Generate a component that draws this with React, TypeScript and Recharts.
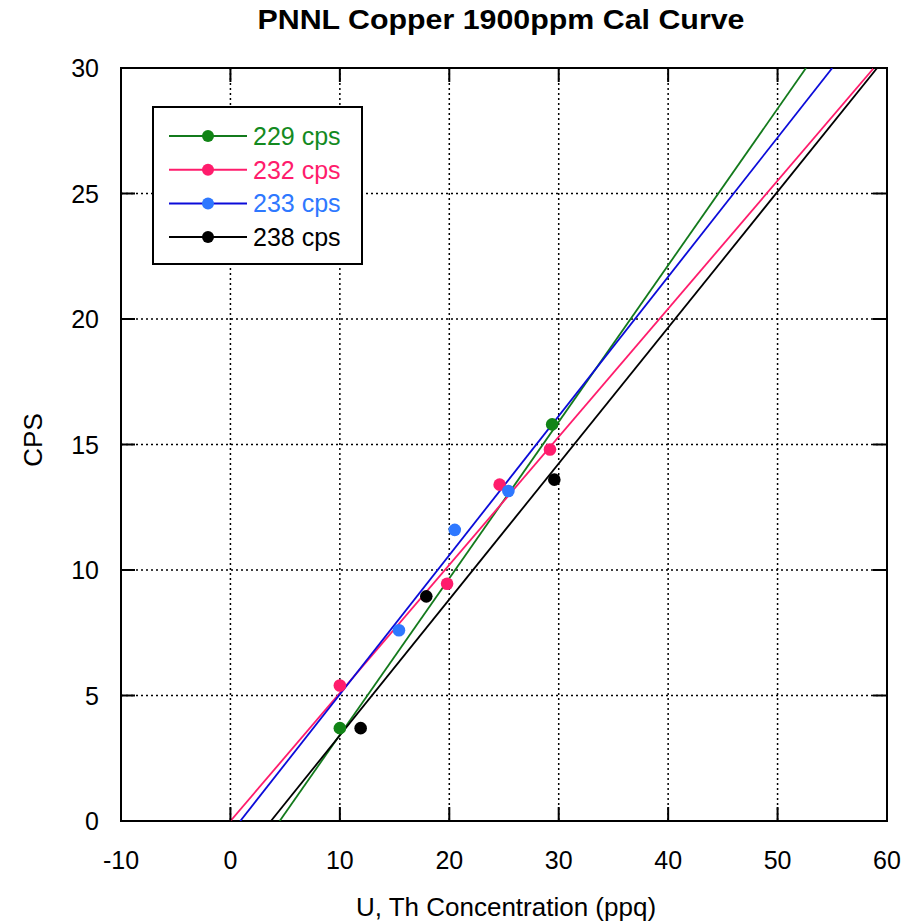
import React from "react";
import {
  ScatterChart,
  Scatter,
  XAxis,
  YAxis,
  CartesianGrid,
  ReferenceArea,
} from "recharts";

// chart size and plot frame
const WIDTH = 915;
const HEIGHT = 922;
const PLOT_LEFT = 121;
const PLOT_RIGHT = 887;
const PLOT_TOP = 68;
const PLOT_BOTTOM = 821;
const FONT = "'Liberation Sans', Arial, Helvetica, sans-serif";

const xTicks = [-10, 0, 10, 20, 30, 40, 50, 60];
const yTicks = [0, 5, 10, 15, 20, 25, 30];

// measured points (concentration ppq, cps)
const conc229 = [10, 29.4];
const cps229 = [3.7, 15.8];
const conc232 = [10, 19.8, 24.6, 29.2];
const cps232 = [5.4, 9.45, 13.4, 14.8];
const conc233 = [15.4, 20.5, 25.4];
const cps233 = [7.6, 11.6, 13.15];
const conc238 = [11.9, 17.9, 29.6];
const cps238 = [3.7, 8.95, 13.6];

// fit line ends, read where each line meets the bottom and top of the plot
const fitCps = [0, 30];
const fit229 = [4.5, 52.6];
const fit232 = [0, 58.8];
const fit233 = [0.9, 55.0];
const fit238 = [3.7, 59.1];

const zip = (xs: number[], ys: number[]) => xs.map((x, i) => ({ x, y: ys[i] }));

const series = [
  { name: "229 cps", line: "#137a1c", dot: "#118416", text: "#138a1f", pts: zip(conc229, cps229), fit: zip(fit229, fitCps) },
  { name: "232 cps", line: "#ff1c6c", dot: "#ff1c6c", text: "#ff1c6c", pts: zip(conc232, cps232), fit: zip(fit232, fitCps) },
  { name: "233 cps", line: "#0b0bd9", dot: "#2e78ff", text: "#2e78ff", pts: zip(conc233, cps233), fit: zip(fit233, fitCps) },
  { name: "238 cps", line: "#000000", dot: "#000000", text: "#000000", pts: zip(conc238, cps238), fit: zip(fit238, fitCps) },
];

function XTick(props: any) {
  const { x, payload } = props;
  return (
    <g>
      <line x1={x} x2={x} y1={PLOT_BOTTOM} y2={PLOT_BOTTOM - 14} stroke="#000" strokeWidth={2} />
      <line x1={x} x2={x} y1={PLOT_TOP} y2={PLOT_TOP + 14} stroke="#000" strokeWidth={2} />
      <text x={x} y={PLOT_BOTTOM + 48} textAnchor="middle" fontSize={25} fontFamily={FONT} fill="#000">
        {payload.value}
      </text>
    </g>
  );
}

function YTick(props: any) {
  const { y, payload } = props;
  return (
    <g>
      <line x1={PLOT_LEFT} x2={PLOT_LEFT + 14} y1={y} y2={y} stroke="#000" strokeWidth={2} />
      <line x1={PLOT_RIGHT - 14} x2={PLOT_RIGHT} y1={y} y2={y} stroke="#000" strokeWidth={2} />
      <text x={PLOT_LEFT - 22} y={y + 9} textAnchor="end" fontSize={25} fontFamily={FONT} fill="#000">
        {payload.value}
      </text>
    </g>
  );
}

const noShape = () => <g />;

function Legend() {
  return (
    <div
      style={{
        position: "absolute",
        left: 152,
        top: 106,
        width: 207,
        height: 155,
        border: "2px solid #000",
        background: "#fff",
      }}
    >
      <svg width={207} height={155}>
        {series.map((s, i) => {
          const cy = 28 + i * 33.7;
          return (
            <g key={s.name}>
              <line x1={15} x2={93} y1={cy} y2={cy} stroke={s.line} strokeWidth={2} />
              <circle cx={54} cy={cy} r={6} fill={s.dot} />
              <text x={99} y={cy + 9} fontSize={25} fontFamily={FONT} fill={s.text}>
                {s.name}
              </text>
            </g>
          );
        })}
      </svg>
    </div>
  );
}

export default function App() {
  return (
    <div style={{ position: "absolute", left: 0, top: 0, width: WIDTH, height: HEIGHT, background: "#fff" }}>
      <ScatterChart
        width={WIDTH}
        height={HEIGHT}
        margin={{ top: PLOT_TOP, right: WIDTH - PLOT_RIGHT, left: 0, bottom: 0 }}
      >
        <CartesianGrid stroke="#000" strokeDasharray="2 3" strokeWidth={1.5} />
        <XAxis
          type="number"
          dataKey="x"
          domain={[-10, 60]}
          ticks={xTicks}
          allowDataOverflow
          axisLine={false}
          tickLine={false}
          tickSize={0}
          tickMargin={0}
          height={HEIGHT - PLOT_BOTTOM}
          tick={<XTick />}
        />
        <YAxis
          type="number"
          dataKey="y"
          domain={[0, 30]}
          ticks={yTicks}
          allowDataOverflow
          axisLine={false}
          tickLine={false}
          tickSize={0}
          tickMargin={0}
          width={PLOT_LEFT}
          tick={<YTick />}
        />
        <ReferenceArea x1={-10} x2={60} y1={0} y2={30} fill="none" stroke="#000" strokeWidth={2} />
        {series.map((s) => (
          <Scatter
            key={s.name + "-fit"}
            data={s.fit}
            line={{ stroke: s.line, strokeWidth: 1.8 }}
            shape={noShape}
            isAnimationActive={false}
          />
        ))}
        {series.map((s) => (
          <Scatter
            key={s.name}
            name={s.name}
            data={s.pts}
            fill={s.dot}
            shape={(p: any) => <circle cx={p.cx} cy={p.cy} r={6.3} fill={s.dot} />}
            isAnimationActive={false}
          />
        ))}
      </ScatterChart>
      <svg
        width={WIDTH}
        height={HEIGHT}
        style={{ position: "absolute", left: 0, top: 0, pointerEvents: "none" }}
      >
        <text
          x={501}
          y={29}
          textAnchor="middle"
          fontSize={28}
          fontWeight="bold"
          fontFamily={FONT}
          textLength={487}
          lengthAdjust="spacingAndGlyphs"
        >
          PNNL Copper 1900ppm Cal Curve
        </text>
        <text
          x={42}
          y={440}
          textAnchor="middle"
          fontSize={26}
          fontFamily={FONT}
          transform="rotate(-90, 42, 440)"
        >
          CPS
        </text>
        <text x={506} y={916} textAnchor="middle" fontSize={26} fontFamily={FONT}>
          U, Th Concentration (ppq)
        </text>
      </svg>
      <Legend />
    </div>
  );
}
